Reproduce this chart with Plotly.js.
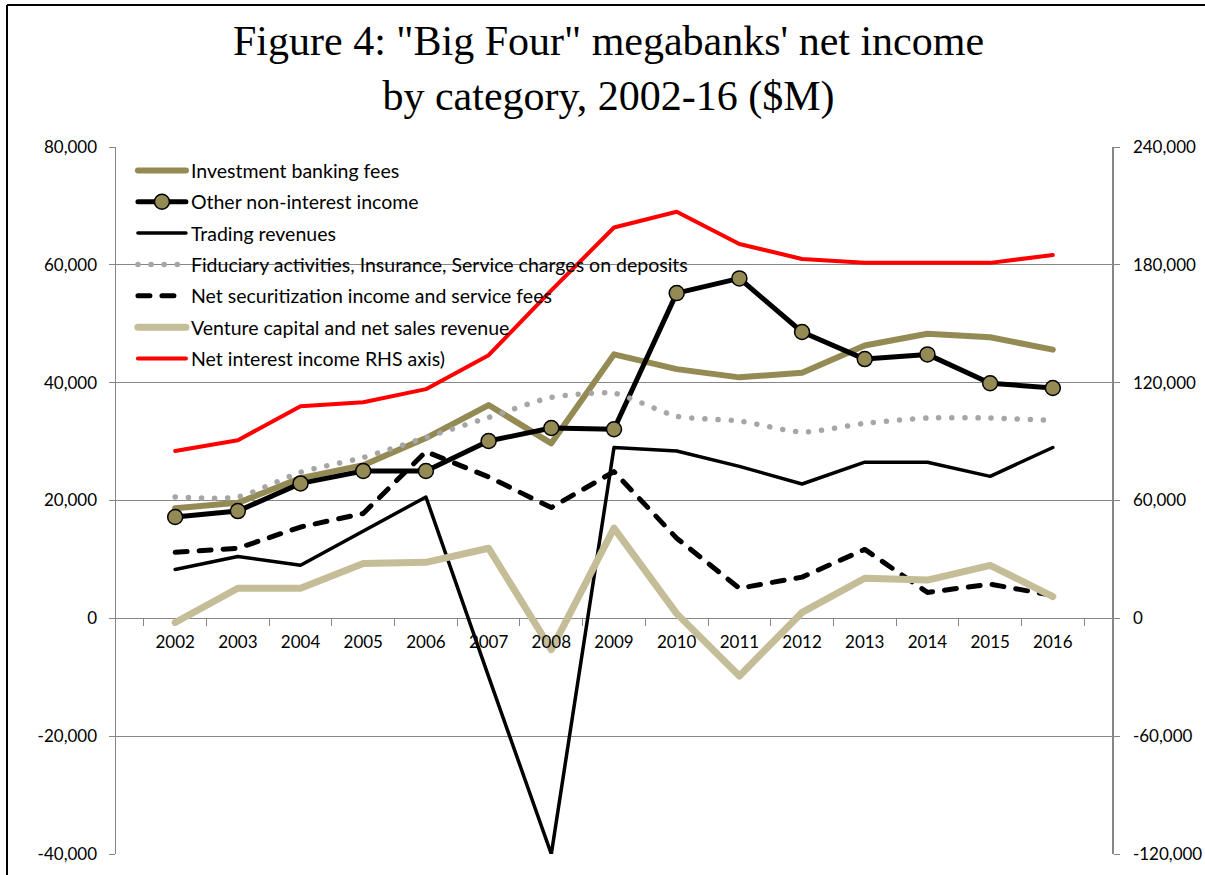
<!DOCTYPE html>
<html>
<head>
<meta charset="utf-8">
<script src="https://cdn.plot.ly/plotly-3.0.1.min.js"></script>
<style>
html,body{margin:0;padding:0;background:#fff;}
#chart{width:1205px;height:875px;}
.scatterlayer .js-line, .legend .js-line{stroke-linecap:round;stroke-linejoin:round;}
</style>
</head>
<body>
<div id="chart"></div>
<script>
const years = ["2002","2003","2004","2005","2006","2007","2008","2009","2010","2011","2012","2013","2014","2015","2016"];
const investmentBanking = [18700,19600,23800,26000,30600,36200,29700,44800,42300,40900,41700,46300,48300,47700,45600];
const otherNonInterest = [17200,18200,22900,25000,25000,30100,32300,32100,55200,57700,48600,44000,44800,39900,39100];
const tradingRevenues = [8300,10500,9000,14800,20600,-9900,-40000,29000,28400,25800,22800,26500,26500,24100,29000];
const fiduciary = [20600,20600,24800,27300,30700,34100,37500,38200,34300,33500,31600,33100,34000,34000,33600];
const securitization = [11200,11900,15500,17800,28300,24000,18800,24900,13600,5100,7000,11700,4400,5800,3900];
const ventureCapital = [-700,5100,5100,9300,9500,11900,-5300,15300,800,-9800,1000,6800,6500,9000,3700];
const netInterestRHS = [85200,90700,108000,110000,116700,134000,167000,199000,207000,190600,183000,181000,181000,181000,185000];
const leftTicks = [-40000,-20000,0,20000,40000,60000,80000];
const rightTicks = [-120000,-60000,0,60000,120000,180000,240000];
const fmt = v => v.toLocaleString('en-US');

const traces = [
  {name:"Investment banking fees", y:investmentBanking, line:{color:"#948A54",width:6}},
  {name:"Other non-interest income", y:otherNonInterest, mode:"lines+markers", line:{color:"#000000",width:5},
   marker:{size:15,color:"#948A54",line:{color:"#000000",width:1.5}}},
  {name:"Trading revenues", y:tradingRevenues, line:{color:"#000000",width:3.5}},
  {name:"Fiduciary activities, Insurance, Service charges on deposits", y:fiduciary,
   line:{color:"#A6A6A6",width:5.5,dash:"0.1px,13px",shape:"spline",smoothing:0.6}},
  {name:"Net securitization income and service fees", y:securitization, line:{color:"#000000",width:5,dash:"12px,12px"}},
  {name:"Venture capital and net sales revenue", y:ventureCapital, line:{color:"#C4BD97",width:7}},
  {name:"Net interest income RHS axis)", y:netInterestRHS, yaxis:"y2", line:{color:"#FF0000",width:4}}
].map((t,i)=>Object.assign({type:"scatter", mode:"lines", x:years, legendgroup:"g"+i, hoverinfo:"skip"}, t));

const axFont = {family:"Lato, 'Open Sans', sans-serif", size:17, color:"#000"};
const layout = {
  width:1205, height:875,
  margin:{l:116, r:93, t:147, b:21, pad:0},
  paper_bgcolor:"#fff", plot_bgcolor:"#fff",
  showlegend:true,
  title:{text:"Figure 4: \"Big Four\" megabanks' net income<br>by category, 2002-16 ($M)",
         font:{family:"'Liberation Serif', 'Times New Roman', serif", size:42, color:"#000"},
         x:0.505, xanchor:"center", xref:"container", y:0.937, yanchor:"top", yref:"container"},
  xaxis:{type:"category", anchor:"free", position:1/3, showgrid:false, zeroline:false, showline:false,
         ticks:"outside", tickson:"boundaries", ticklen:7, tickcolor:"#868686", tickwidth:1,
         tickfont:axFont, ticklabelstandoff:12, fixedrange:true},
  yaxis:{range:[-40000,80000], tickvals:leftTicks, ticktext:leftTicks.map(fmt), showgrid:true, gridcolor:"#868686", gridwidth:1,
         zeroline:false, showline:true, linecolor:"#868686", linewidth:1.5, ticks:"outside", ticklen:6, tickcolor:"#868686",
         tickfont:axFont, ticklabelstandoff:8, fixedrange:true},
  yaxis2:{range:[-120000,240000], tickvals:rightTicks, ticktext:rightTicks.map(fmt), overlaying:"y", side:"right", showgrid:false,
          zeroline:false, showline:true, linecolor:"#868686", linewidth:1.5, ticks:"outside", ticklen:6, tickcolor:"#868686",
          tickfont:axFont, ticklabelstandoff:10, fixedrange:true},
  legend:{x:0.017, y:0.994, xanchor:"left", yanchor:"top", bgcolor:"rgba(0,0,0,0)", borderwidth:0,
          font:{family:"Lato, 'Open Sans', sans-serif", size:19.5, color:"#000"}, tracegroupgap:3, itemwidth:48},
  shapes:[
    {type:"line", xref:"paper", yref:"paper", x0:(7-116)/996, x1:(1215-116)/996, y0:(854-5)/707, y1:(854-5)/707, line:{color:"#000",width:2}},
    {type:"line", xref:"paper", yref:"paper", x0:(7-116)/996, x1:(7-116)/996, y0:(854-5)/707, y1:(854-885)/707, line:{color:"#000",width:2}}
  ]
};
Plotly.newPlot("chart", traces, layout, {displayModeBar:false, staticPlot:true});
</script>
</body>
</html>
